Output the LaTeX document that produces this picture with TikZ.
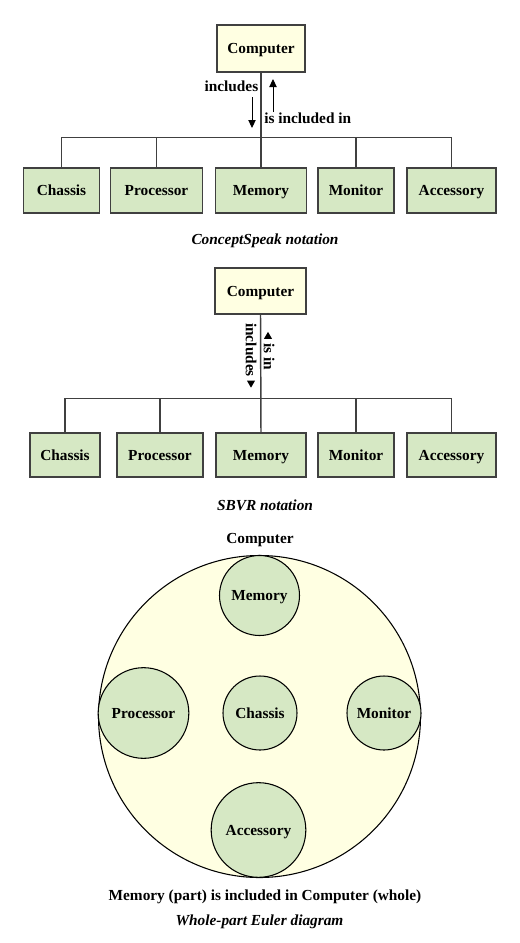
\documentclass[tikz,border=0pt]{standalone}
\usepackage{fontspec}
\setmainfont{Liberation Serif}
\usepackage{tikz}
\usetikzlibrary{shapes.geometric, arrows.meta, positioning}
\usepackage{xcolor}
\definecolor{partgreen}{RGB}{214,232,196}
\definecolor{wholeyellow}{RGB}{255,255,226}
\definecolor{linegray}{RGB}{64,64,64}

\begin{document}
\begin{tikzpicture}[
    x=0.75pt, y=-0.75pt,
    font=\fontsize{11.5}{13}\selectfont\bfseries,
    whole/.style={rectangle, draw=linegray, fill=wholeyellow, line width=1.1pt, minimum width=66pt, minimum height=35pt, inner sep=0pt, text height=1.9ex, text depth=0.2ex},
    part/.style={rectangle, draw=linegray, fill=partgreen, line width=1.1pt, minimum height=33.5pt, inner sep=0pt, text height=1.9ex, text depth=0.2ex},
    tree/.style={draw=linegray, line width=1.1pt},
    arrow/.style={-{Triangle[length=6pt, width=5.5pt]}, line width=0.7pt},
    tip/.style={regular polygon, regular polygon sides=3, fill=black, minimum size=7pt, inner sep=0pt},
    setc/.style={circle, draw=black, line width=0.8pt, fill=partgreen, inner sep=0pt, text height=1.9ex, text depth=0.2ex},
    caption/.style={font=\fontsize{11.5}{13}\selectfont\bfseries\itshape}
]
\useasboundingbox (0,0) rectangle (520,943);

% ConceptSpeak notation
\node[whole] (comp1) at (261,48.5) {Computer};
\node[part, minimum width=57pt] (chassis1) at (61.5,190.5) {Chassis};
\node[part, minimum width=69pt] (proc1) at (156.5,190.5) {Processor};
\node[part, minimum width=68pt] (mem1) at (261,190.5) {Memory};
\node[part, minimum width=57pt] (mon1) at (356,190.5) {Monitor};
\node[part, minimum width=67pt] (acc1) at (451.5,190.5) {Accessory};
\coordinate (bar1) at (261,137.5);

\draw[tree] (comp1.south) -- (mem1.north);
\draw[tree] (chassis1.north) |- (bar1) -| (acc1.north);
\draw[tree] (proc1.north) -- (proc1.north |- bar1);
\draw[tree] (mon1.north) -- (mon1.north |- bar1);

\coordinate (inc1a) at (252,97);
\coordinate (inc1b) at (252,128);
\coordinate (isin1a) at (273,112);
\coordinate (isin1b) at (273,79);
\draw[arrow] (inc1a) -- (inc1b);
\draw[arrow] (isin1a) -- (isin1b);
\node[anchor=east, inner sep=0pt] (inc1) at (258.5,86) {includes};
\node[anchor=west, inner sep=0pt] (isin1) at (264,118) {is included in};

\node[caption] (cap1) at (265,241) {ConceptSpeak notation};

% SBVR notation
\node[whole, minimum width=68pt, minimum height=34.5pt] (comp2) at (260.5,291) {Computer};
\node[part, minimum width=52.5pt, minimum height=33pt] (chassis2) at (65,455) {Chassis};
\node[part, minimum width=64.5pt, minimum height=33pt] (proc2) at (160,455) {Processor};
\node[part, minimum width=67.5pt, minimum height=33pt] (mem2) at (261,455) {Memory};
\node[part, minimum width=57pt, minimum height=33pt] (mon2) at (356,455) {Monitor};
\node[part, minimum width=67pt, minimum height=33pt] (acc2) at (451.5,455) {Accessory};
\coordinate (bar2) at (261,398.5);

\draw[tree] (comp2.south) -- (mem2.north);
\draw[tree] (chassis2.north) |- (bar2) -| (acc2.north);
\draw[tree] (proc2.north) -- (proc2.north |- bar2);
\draw[tree] (mon2.north) -- (mon2.north |- bar2);

\node[rotate=-90, inner sep=0pt] (inc2) at (251,350) {includes};
\node[tip, shape border rotate=180] (inctip2) at (251,383) {};
\node[rotate=-90, inner sep=0pt] (isin2) at (269,356.5) {is in};
\node[tip] (isintip2) at (268,336.5) {};

\node[caption] (cap2) at (265,505) {SBVR notation};

% Whole-part Euler diagram
\node (comp3label) at (260,540) {Computer};
\node[setc, fill=wholeyellow, minimum size=241.5pt] (comp3) at (259.5,716.5) {};
\node[setc, minimum size=60pt] (mem3) at (259.5,595.5) {Memory};
\node[setc, minimum size=68pt] (proc3) at (143.5,713) {Processor};
\node[setc, minimum size=55.5pt] (chassis3) at (260,713) {Chassis};
\node[setc, minimum size=55.5pt] (mon3) at (384,713) {Monitor};
\node[setc, minimum size=71pt] (acc3) at (258.5,830) {Accessory};

\node (note3) at (265,897) {Memory (part) is included in Computer (whole)};
\node[caption] (cap3) at (259.5,922) {Whole-part Euler diagram};
\end{tikzpicture}
\end{document}
